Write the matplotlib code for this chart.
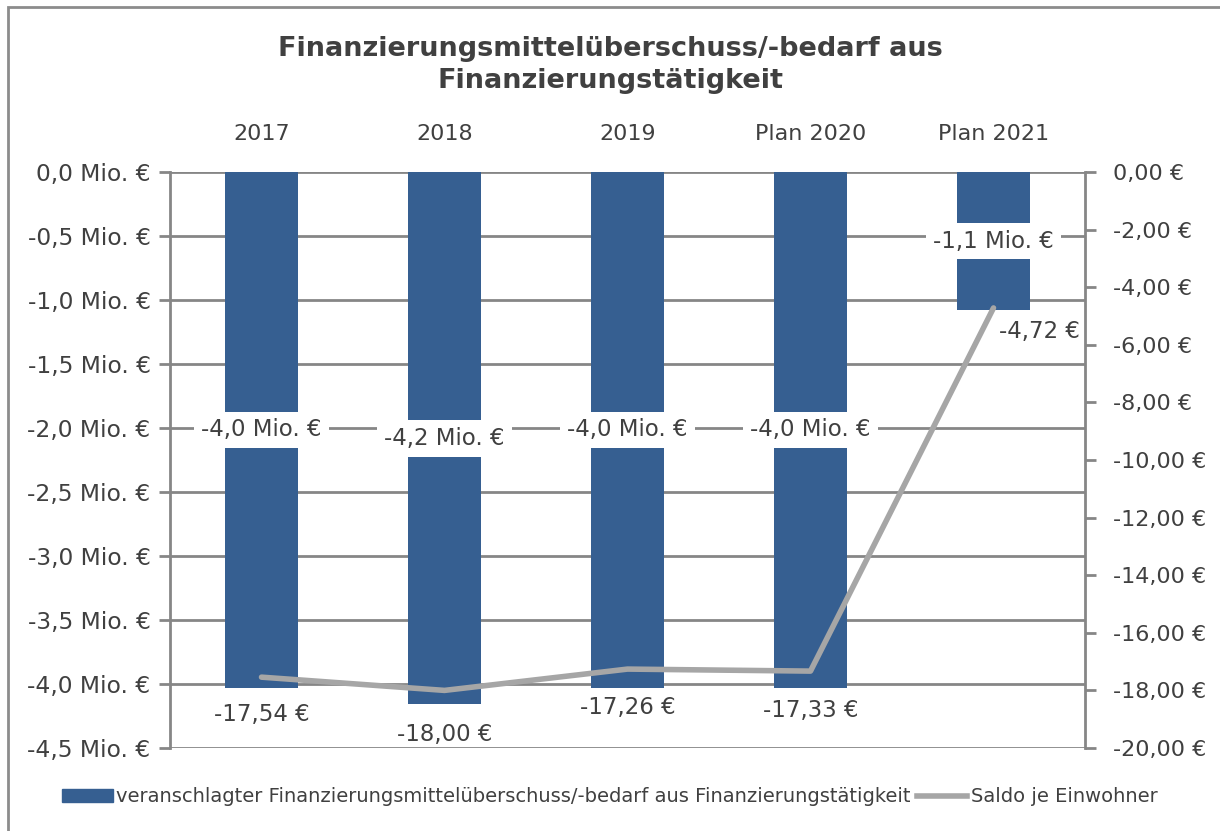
import numpy as np
import matplotlib.pyplot as plt
from matplotlib.patches import Rectangle
from matplotlib.lines import Line2D

#___chart data___#
years = ["2017", "2018", "2019", "Plan 2020", "Plan 2021"]
bedarf_mio = [-4.03, -4.16, -4.03, -4.03, -1.08]   # Mio. EUR, bars (left axis)
saldo_ew = [-17.54, -18.00, -17.26, -17.33, -4.72]  # EUR per inhabitant, line (right axis)

left_ticks = [0.0, -0.5, -1.0, -1.5, -2.0, -2.5, -3.0, -3.5, -4.0, -4.5]
right_ticks = [0, -2, -4, -6, -8, -10, -12, -14, -16, -18, -20]

bar_name = "veranschlagter Finanzierungsmittelüberschuss/-bedarf aus Finanzierungstätigkeit"
line_name = "Saldo je Einwohner"

#___style___#
bar_col = "#365F91"
line_col = "#A6A6A6"
axis_col = "#868686"
text_col = "#404040"
plt.rcParams['font.family'] = ['DejaVu Sans']

def de(v, n):
    return f"{v:.{n}f}".replace(".", ",")  # german decimal comma

fig = plt.figure(figsize=(12.2, 8.31), dpi=100)
# outer chart frame (only top and left edge visible in the image)
fig.patches.append(Rectangle((8 / 1220, -0.01), 1.1, 1 - 7 / 831 + 0.01, transform=fig.transFigure,
                             fill=False, edgecolor="#8C8C8C", linewidth=2))

ax = fig.add_axes([170 / 1220, 1 - 748 / 831, 915 / 1220, 576 / 831])
x = np.arange(len(years))

#___bars___#
ax.bar(x, bedarf_mio, width=0.4, color=bar_col, zorder=3)
ax.set_ylim(-4.5, 0)
ax.set_xlim(-0.5, len(years) - 0.5)
ax.set_yticks(left_ticks)
ax.set_yticklabels([de(v, 1) + " Mio. €" for v in left_ticks])
ax.yaxis.grid(True, color=axis_col, linewidth=2, zorder=0)
ax.set_axisbelow(True)
ax.set_xticks(x)
ax.set_xticklabels(years)
ax.xaxis.tick_top()
ax.tick_params(axis="x", length=0, pad=20, labelsize=16, labelcolor=text_col)
ax.tick_params(axis="y", length=8, width=2, color=axis_col, labelsize=16.8, labelcolor=text_col, pad=6)
for s in ["top", "bottom", "right"]:
    ax.spines[s].set_visible(False)
ax.spines["left"].set_color(axis_col)
ax.spines["left"].set_linewidth(2)

for xi, v in zip(x, bedarf_mio):
    ax.text(xi, v / 2, de(v, 1) + " Mio. €", ha="center", va="center", fontsize=16.5, color=text_col,
            zorder=5, bbox=dict(facecolor="white", edgecolor="none", pad=5))

#___line on second axis___#
ax2 = ax.twinx()
ax2.plot(x, saldo_ew, color=line_col, linewidth=4, zorder=4, solid_capstyle="round")
ax2.set_ylim(-20, 0)
ax2.set_yticks(right_ticks)
ax2.set_yticklabels([de(v, 2) + " €" for v in right_ticks])
ax2.tick_params(axis="y", length=8, width=2, color=axis_col, labelsize=16, labelcolor=text_col, pad=12)
for s in ["top", "bottom", "left"]:
    ax2.spines[s].set_visible(False)
ax2.spines["right"].set_color(axis_col)
ax2.spines["right"].set_linewidth(2)

offsets = [(0, -26), (0, -33), (0, -27), (0, -28), (46, -12)]
for xi, v, off in zip(x, saldo_ew, offsets):
    ax2.annotate(de(v, 2) + " €", (xi, v), xytext=off, textcoords="offset pixels",
                 ha="center", va="top", fontsize=16.5, color=text_col, zorder=6)

#___title and legend___#
fig.text(0.5, 1 - 65 / 831, "Finanzierungsmittelüberschuss/-bedarf aus\nFinanzierungstätigkeit",
         ha="center", va="center", fontsize=19.5, fontweight="bold", color=text_col, linespacing=1.25)

handles = [Rectangle((0, 0), 1, 1, color=bar_col), Line2D([0], [0], color=line_col, linewidth=4)]
fig.legend(handles, [bar_name, line_name], loc="center", bbox_to_anchor=(0.5, 1 - 797 / 831), ncol=2,
           frameon=False, fontsize=14, handlelength=2.6, handleheight=0.6, handletextpad=0.2,
           columnspacing=0.3, labelcolor=text_col)

fig.savefig("out.png", dpi=100)
